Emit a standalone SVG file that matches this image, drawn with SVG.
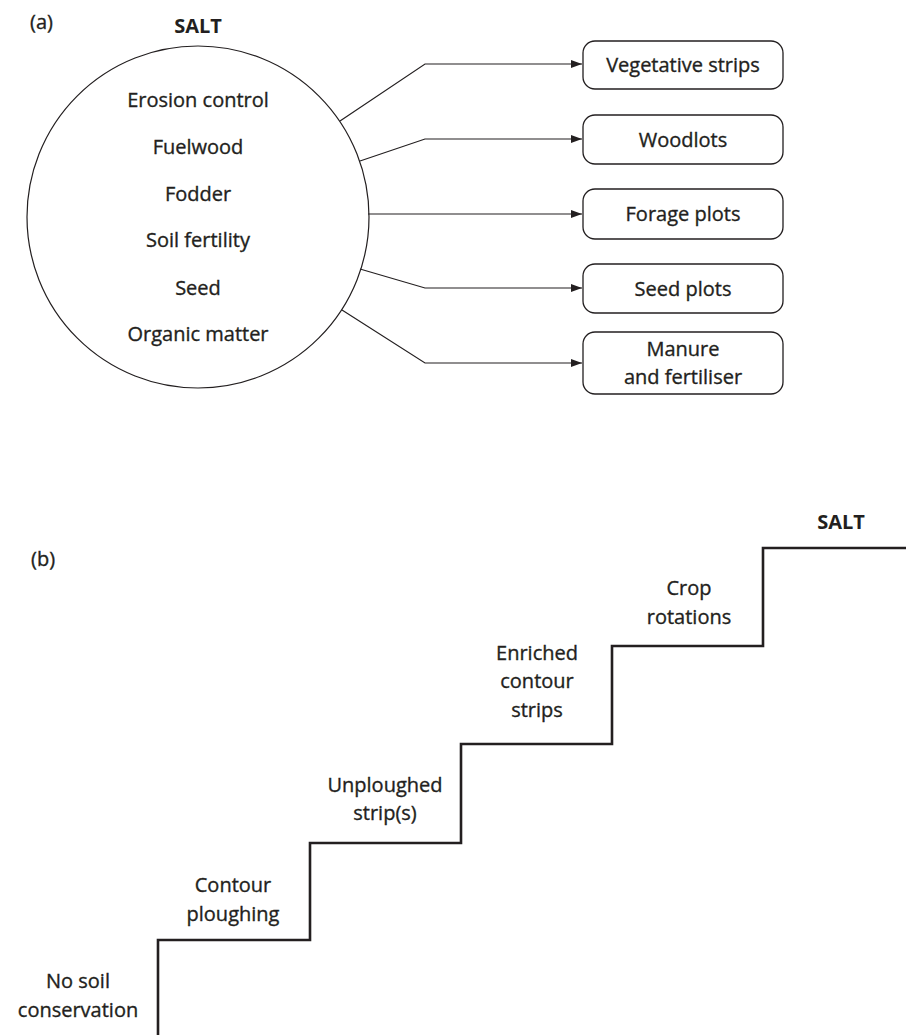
<svg xmlns="http://www.w3.org/2000/svg" width="906" height="1035" viewBox="0 0 906 1035">
<style>
text{font-family:"Open Sans","Liberation Sans",sans-serif;font-size:20px;fill:#231f20;stroke:#231f20;stroke-width:0.35;text-anchor:middle}
.b{font-weight:bold;stroke-width:0}
.l{text-anchor:start}
.box{fill:#fff;stroke:#231f20;stroke-width:1.3}
.c{fill:none;stroke:#231f20;stroke-width:1.2}
.stair{fill:none;stroke:#231f20;stroke-width:2.6}
</style>
<defs>
<marker id="ah" markerWidth="11" markerHeight="8" refX="11" refY="4" orient="auto" markerUnits="userSpaceOnUse">
<path d="M0,0 L11,4 L0,8 Z" fill="#231f20"/>
</marker>
</defs>
<text class="l" x="30" y="29">(a)</text>
<g id="salt-circle">
<text class="b" x="198" y="33">SALT</text>
<circle cx="198" cy="217" r="171" fill="none" stroke="#231f20" stroke-width="1.2"/>
<text x="198" y="107">Erosion control</text>
<text x="198" y="154">Fuelwood</text>
<text x="198" y="201">Fodder</text>
<text x="198" y="247">Soil fertility</text>
<text x="198" y="295">Seed</text>
<text x="198" y="341">Organic matter</text>
</g>
<g id="connectors">
<polyline class="c" points="340,121 425,64 582,64" marker-end="url(#ah)"/>
<polyline class="c" points="360,161 425,139 582,139" marker-end="url(#ah)"/>
<polyline class="c" points="368,214 582,214" marker-end="url(#ah)"/>
<polyline class="c" points="360,269 425,288 582,288" marker-end="url(#ah)"/>
<polyline class="c" points="342,310 425,363 582,363" marker-end="url(#ah)"/>
</g>
<g id="vegetative-strips"><rect class="box" x="583" y="41" width="200" height="48" rx="12"/><text x="683" y="72">Vegetative strips</text></g>
<g id="woodlots"><rect class="box" x="583" y="115" width="200" height="49" rx="12"/><text x="683" y="147">Woodlots</text></g>
<g id="forage-plots"><rect class="box" x="583" y="189" width="200" height="50" rx="12"/><text x="683" y="221">Forage plots</text></g>
<g id="seed-plots"><rect class="box" x="583" y="264" width="200" height="49" rx="12"/><text x="683" y="296">Seed plots</text></g>
<g id="manure"><rect class="box" x="583" y="332" width="200" height="62" rx="12"/><text x="683" y="356">Manure</text><text x="683" y="384">and fertiliser</text></g>
<text class="l" x="31" y="566">(b)</text>
<g id="staircase">
<polyline class="stair" points="158,1036 158,940 310,940 310,843 461,843 461,744 612,744 612,646 763,646 763,548 907,548"/>
</g>
<g id="no-soil"><text x="78" y="988">No soil</text><text x="78" y="1017">conservation</text></g>
<g id="contour-ploughing"><text x="233" y="892">Contour</text><text x="233" y="921">ploughing</text></g>
<g id="unploughed"><text x="385" y="792">Unploughed</text><text x="385" y="820">strip(s)</text></g>
<g id="enriched"><text x="537" y="660">Enriched</text><text x="537" y="688">contour</text><text x="537" y="717">strips</text></g>
<g id="crop-rotations"><text x="689" y="595">Crop</text><text x="689" y="624">rotations</text></g>
<g id="salt-top"><text class="b" x="841" y="529">SALT</text></g>
</svg>
